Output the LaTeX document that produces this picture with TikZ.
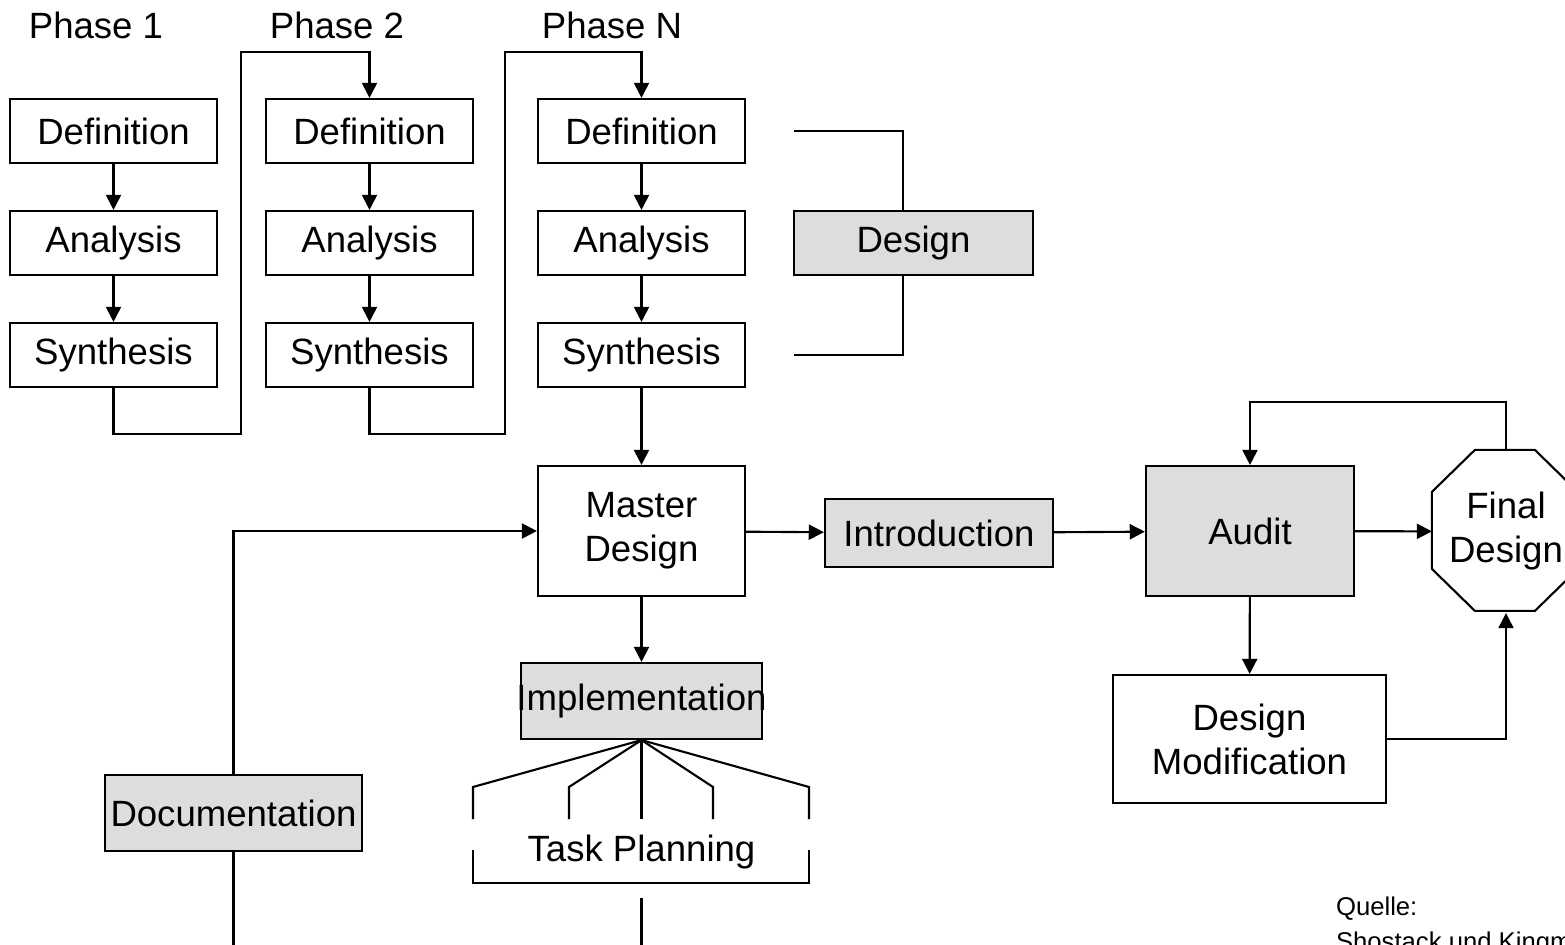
\documentclass[tikz,border=0pt]{standalone}
\usepackage{fontspec}
\setmainfont{Liberation Sans}
\usetikzlibrary{arrows.meta}
\definecolor{boxgray}{HTML}{DDDDDD}
\tikzset{
  box/.style={draw, minimum width=2.07cm, minimum height=0.64cm, inner sep=0pt,
    align=center, font=\fontsize{10.4}{12.5}\selectfont},
  graybox/.style={box, fill=boxgray},
  lbl/.style={inner sep=0pt, align=center, font=\fontsize{10.4}{12.5}\selectfont},
  arr/.style={-{Triangle[length=4.3pt,width=4.3pt]}},
}
\begin{document}
\begin{tikzpicture}[x=0.01cm, y=-0.01cm, line width=0.6pt]
\useasboundingbox (0,0) rectangle (1565,945);
% phases
\node[lbl] (ph1) at (96,25){Phase 1};
\node[lbl] (ph2) at (337,25){Phase 2};
\node[lbl] (phn) at (612,25){Phase N};
\node[box] (def1) at (113.5,131){Definition};
\node[box] (ana1) at (113.5,243){Analysis};
\node[box] (syn1) at (113.5,355){Synthesis};
\draw[arr](def1) -- (ana1);
\draw[arr](ana1) -- (syn1);
\node[box] (def2) at (369.5,131){Definition};
\node[box] (ana2) at (369.5,243){Analysis};
\node[box] (syn2) at (369.5,355){Synthesis};
\draw[arr](def2) -- (ana2);
\draw[arr](ana2) -- (syn2);
\node[box] (defn) at (641.5,131){Definition};
\node[box] (anan) at (641.5,243){Analysis};
\node[box] (synn) at (641.5,355){Synthesis};
\draw[arr](defn) -- (anan);
\draw[arr](anan) -- (synn);
\draw[arr](syn1.south) |- (241,434) |- (369.5,52) -- (def2.north);
\draw[arr](syn2.south) |- (505,434) |- (641.5,52) -- (defn.north);
% design bracket
\node[graybox, minimum width=2.39cm] (design) at (913.5,243){Design};
\draw (defn.east) ++(48,0) -| ([xshift=-0.105cm]design.north);
\draw (synn.east) ++(48,0) -| ([xshift=-0.105cm]design.south);
% master design and the chain to the right
\node[box, minimum height=1.30cm] (master) at (641.5,531){Master\\Design};
\draw[arr](synn) -- (master);
\node[graybox, minimum width=2.28cm, minimum height=0.68cm] (intro) at (939,533){Introduction};
\node[graybox, minimum width=2.08cm, minimum height=1.30cm] (audit) at (1250,531){Audit};
\node[lbl, minimum width=1.46cm, minimum height=1.61cm] (final) at (1506,531.5){Final\\Design};
\draw (final.north west) ++(43,0) -- ++(60,0) -- ++(43,42) -- ++(0,77) -- ++(-43,42)
  -- ++(-60,0) -- ++(-43,-42) -- ++(0,-77) -- cycle;
\node[box, minimum width=2.73cm, minimum height=1.28cm] (dm) at (1249.5,739){Design\\Modification};
\draw[arr](master) -- (intro);
\draw[arr](intro) -- (audit);
\draw[arr](audit) -- (final);
\draw[arr](final.north) -- ++(0,-48) -| (audit.north);
\draw[arr](audit) -- (dm);
\draw[arr](dm.east) -| (final.south);
% implementation and task planning
\node[graybox, minimum width=2.41cm, minimum height=0.76cm] (impl) at (641.5,701){\makebox[0pt]{Implementation}};
\draw[arr](master) -- (impl);
\foreach \x in {473,569,641.5,713,809}
  \draw (impl.south) -- (\x,787) -- (\x,819);
\node[lbl] (task) at (641.5,852){Task Planning};
\draw (473,850) |- (809,883) -- (809,850);
\draw (641.5,898) -- (641.5,945);
% documentation
\node[graybox, minimum width=2.57cm, minimum height=0.76cm] (doc) at (233.5,813){Documentation};
\draw[arr](doc.north) |- (master.west);
\draw (doc.south) -- ++(0,94);
% source
\node[anchor=north west, inner sep=0pt, align=left, font=\fontsize{7.3}{10}\selectfont] (src) at (1335,896){Quelle:\\Shostack und Kingman};
\end{tikzpicture}
\end{document}
